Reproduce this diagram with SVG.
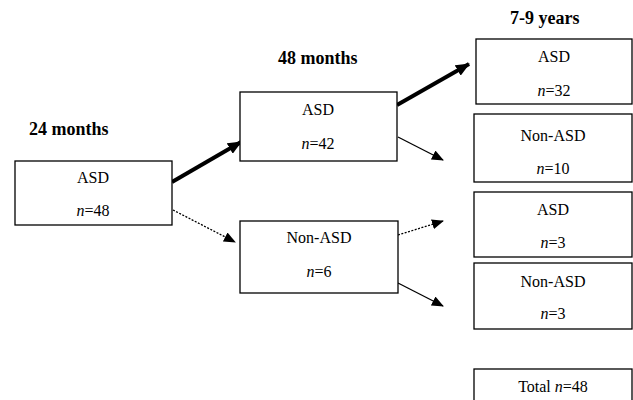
<svg xmlns="http://www.w3.org/2000/svg" width="633" height="400" viewBox="0 0 633 400">
<style>
.box{fill:#fff;stroke:#000;stroke-width:1.3}
.t{font-family:"Liberation Serif","Times New Roman",serif;font-size:16px;fill:#000;text-anchor:middle}
.h{font-family:"Liberation Serif","Times New Roman",serif;font-size:18px;font-weight:bold;fill:#000}
.i{font-style:italic}
.thick{stroke:#000;stroke-width:4;fill:none}
.thin{stroke:#000;stroke-width:1.3;fill:none}
.dot{stroke:#000;stroke-width:1.3;fill:none;stroke-dasharray:2 1.5}
</style>
<defs>
<marker id="ah" markerUnits="userSpaceOnUse" markerWidth="14" markerHeight="12" refX="13" refY="6" orient="auto">
<path d="M0,0 L14,6 L0,12 Z" fill="#000"/>
</marker>
<marker id="ahs" markerUnits="userSpaceOnUse" markerWidth="12" markerHeight="10" refX="11" refY="5" orient="auto">
<path d="M0,0 L12,5 L0,10 Z" fill="#000"/>
</marker>
</defs>
<text class="h" x="29" y="135">24 months</text>
<text class="h" x="278" y="64">48 months</text>
<text class="h" x="510" y="24">7-9 years</text>
<g id="connectors">
<line class="thick" x1="172" y1="182" x2="241" y2="142" marker-end="url(#ah)"/>
<line class="dot" x1="173" y1="210" x2="235" y2="242" marker-end="url(#ahs)"/>
<line class="thick" x1="397" y1="105" x2="469" y2="64" marker-end="url(#ah)"/>
<line class="thin" x1="398" y1="137" x2="443" y2="160" marker-end="url(#ahs)"/>
<line class="dot" x1="398" y1="235" x2="443" y2="221" marker-end="url(#ahs)"/>
<line class="thin" x1="398" y1="283" x2="443" y2="306" marker-end="url(#ahs)"/>
</g>
<g id="n24asd">
<rect class="box" x="15" y="161" width="157" height="64"/>
<text class="t" x="93" y="183">ASD</text>
<text class="t" x="93" y="216"><tspan class="i">n</tspan>=48</text>
</g>
<g id="n48asd">
<rect class="box" x="240" y="92" width="157" height="69"/>
<text class="t" x="318" y="115">ASD</text>
<text class="t" x="318" y="149"><tspan class="i">n</tspan>=42</text>
</g>
<g id="n48non">
<rect class="box" x="240" y="221" width="158" height="72"/>
<text class="t" x="319" y="243">Non-ASD</text>
<text class="t" x="319" y="277"><tspan class="i">n</tspan>=6</text>
</g>
<g id="y_asd1">
<rect class="box" x="476" y="39" width="156" height="65"/>
<text class="t" x="554" y="62">ASD</text>
<text class="t" x="554" y="96"><tspan class="i">n</tspan>=32</text>
</g>
<g id="y_non1">
<rect class="box" x="474" y="114" width="158" height="68"/>
<text class="t" x="553" y="141">Non-ASD</text>
<text class="t" x="553" y="174"><tspan class="i">n</tspan>=10</text>
</g>
<g id="y_asd2">
<rect class="box" x="474" y="192" width="158" height="65"/>
<text class="t" x="553" y="215">ASD</text>
<text class="t" x="553" y="248"><tspan class="i">n</tspan>=3</text>
</g>
<g id="y_non2">
<rect class="box" x="474" y="263" width="158" height="66"/>
<text class="t" x="553" y="287">Non-ASD</text>
<text class="t" x="553" y="319"><tspan class="i">n</tspan>=3</text>
</g>
<g id="total">
<rect class="box" x="474" y="369" width="158" height="40"/>
<text class="t" x="553" y="392">Total <tspan class="i">n</tspan>=48</text>
</g>
</svg>
